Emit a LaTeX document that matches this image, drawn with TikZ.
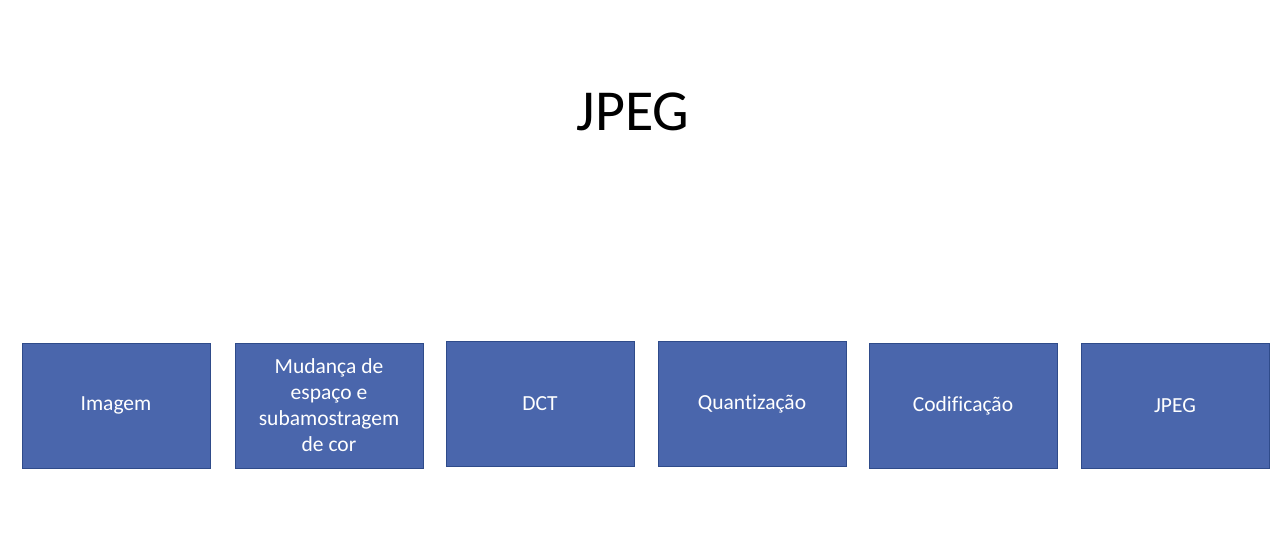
\documentclass[tikz,border=0pt]{standalone}
\usepackage{fontspec}
\setmainfont[Ligatures={NoCommon}]{Carlito}
\definecolor{boxfill}{HTML}{4A66AC}
\definecolor{boxline}{HTML}{2F4B8A}
\begin{document}
\begin{tikzpicture}[x=1pt,y=-1pt,
  blk/.style={draw=boxline,line width=1pt,fill=boxfill,minimum width=188pt,minimum height=125pt,
    inner sep=0pt,text=white,align=center,font=\fontsize{21.5pt}{26pt}\selectfont},
  ttl/.style={font=\fontsize{58pt}{64pt}\selectfont,inner sep=0pt,anchor=base}]
\useasboundingbox (0,0) rectangle (1280,558);
\node[ttl] (title) at (633,130) {JPEG};
\node[blk] (img) at (116,405.5) {\raisebox{-2pt}{Imagem}};
\node[blk] (mud) at (329,405.5) {Mudança de\\espaço e\\subamostragem\\de cor};
\node[blk] (dct) at (540,403.5) {\raisebox{-2pt}{DCT}};
\node[blk] (qua) at (752,403.5) {\raisebox{-2pt}{Quantização}};
\node[blk] (cod) at (963,405.5) {\raisebox{-2pt}{Codificação}};
\node[blk] (jpg) at (1175,405.5) {\raisebox{-2pt}{JPEG}};
\end{tikzpicture}
\end{document}
